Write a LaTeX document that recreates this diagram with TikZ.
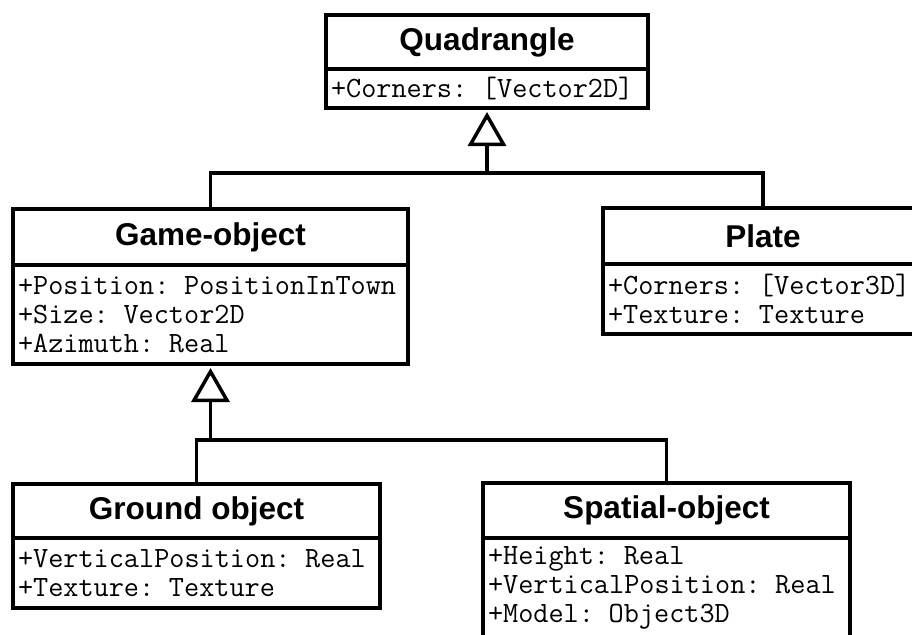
\documentclass[tikz,border=0pt]{standalone}
\usepackage{fontspec}
\setmainfont{Liberation Sans}
\usepackage{tikz}
\usetikzlibrary{arrows.meta,positioning}

\begin{document}
\begin{tikzpicture}[x=1pt,y=-1pt,
  classname/.style={draw,line width=3.5pt,outer sep=0pt,inner sep=0pt,
              font=\fontsize{31.5}{36}\selectfont\bfseries},
  attrs/.style={draw,line width=3.5pt,outer sep=0pt,inner xsep=5pt,inner ysep=0pt,
              text width=#1,align=left,font=\fontsize{29.4}{29}\selectfont\ttfamily},
  gen/.style={line width=3.5pt,shorten >=4pt,-{Triangle[open,length=34pt,width=38pt]}},
  link/.style={line width=3.5pt}
]
\useasboundingbox (0,0) rectangle (912,634);
\clip (0,0) rectangle (912,634);

\node[classname,minimum width=322pt,minimum height=54pt] (quad) at (487,42) {Quadrangle};
\node[attrs=312pt,minimum height=39pt,below=0pt of quad] (quad-attr) {+Corners: [Vector2D]};

\node[classname,minimum width=395pt,minimum height=56pt] (gobj) at (210.5,237) {Game-object};
\node[attrs=385pt,minimum height=99pt,below=0pt of gobj] (gobj-attr)
  {+Position: PositionInTown\\+Size: Vector2D\\+Azimuth: Real};

% Plate runs past the right edge of the picture
\node[classname,minimum width=320pt,minimum height=56pt] (plate) at (763,236) {Plate};
\node[attrs=310pt,minimum height=70pt,below=0pt of plate] (plate-attr)
  {+Corners: [Vector3D]\\+Texture: Texture};

\node[classname,minimum width=367pt,minimum height=54pt] (ground) at (196.5,511) {Ground object};
\node[attrs=357pt,minimum height=70pt,below=0pt of ground] (ground-attr)
  {+VerticalPosition: Real\\+Texture: Texture};

\node[classname,minimum width=367pt,minimum height=55pt] (spatial) at (666.5,510.5) {Spatial-object};
\node[attrs=357pt,minimum height=99pt,below=0pt of spatial] (spatial-attr)
  {+Height: Real\\+VerticalPosition: Real\\+Model: Object3D};

% generalisation to Quadrangle
\coordinate (top-join) at (quad-attr.south |- 0,173);
\draw[gen] (gobj.north) |- (top-join) -- (quad-attr.south);
\draw[link] (plate.north) |- (top-join);

% generalisation to Game-object
\coordinate (mid-join) at (gobj-attr.south |- 0,440);
\draw[gen] (ground.north) |- (mid-join) -- (gobj-attr.south);
\draw[link] (spatial.north) |- (mid-join);
\end{tikzpicture}
\end{document}
